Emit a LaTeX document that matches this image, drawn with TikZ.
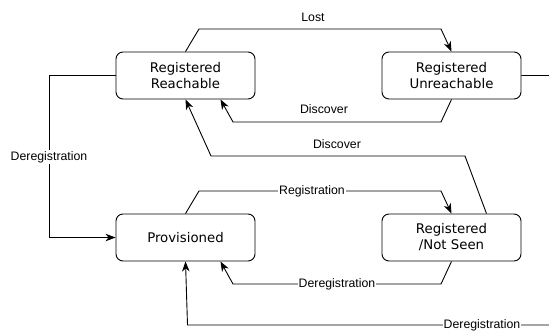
\documentclass[tikz,border=0pt]{standalone}
\usepackage{fontspec}
\setmainfont{Liberation Sans}
\newfontfamily\statefont{DejaVu Sans}
\usetikzlibrary{arrows.meta,calc}

\begin{document}
\begin{tikzpicture}[x=1pt,y=-1pt,
    state/.style={draw, line width=0.9pt, rounded corners=7pt, minimum width=139pt, minimum height=47pt, inner sep=0pt, align=center, font=\statefont\fontsize{13.3}{16}\selectfont},
    flow/.style={draw, line width=0.9pt, -{Stealth[length=10pt,width=7.5pt,inset=3pt]}},
    lbl/.style={font=\fontsize{12.3}{14}\selectfont, inner sep=1pt},
    onlbl/.style={lbl, fill=white}]
    \useasboundingbox (0,0) rectangle (549,332);
    \clip (0,0) rectangle (549,332);

    % states
    \node[state] (reach) at (185.5,75.5) {Registered\\Reachable};
    \node[state] (unreach) at (451.5,75.5) {Registered\\Unreachable};
    \node[state] (prov) at (185.5,237.5) {Provisioned};
    \node[state] (notseen) at (451.5,237.5) {Registered\\/Not Seen};

    % top row
    \draw[flow] (reach.north) -- (199,29) -- (441,29) -- (unreach.north);
    \node[lbl] at (313,17) {Lost};
    \draw[flow] (unreach.south) -- (441,122) -- (233,122) -- ($(reach.south)+(35,0)$);
    \node[lbl] at (324,109) {Discover};
    \draw[flow] ($(notseen.north)+(35,0)$) -- (465,156) -- (211,156) -- (reach.south);
    \node[lbl] at (337,144) {Discover};

    % back to provisioned
    \draw[flow] (reach.west) -- (49,75.5) -- (49,237.5) -- (prov.west);
    \node[onlbl] at (49,157) {Deregistration};
    \draw[flow] (notseen.south) -- (441,284) -- (233,284) -- ($(prov.south)+(35,0)$);
    \node[onlbl] at (337,284) {Deregistration};
    \draw[flow] (unreach.east) -- (570,75.5) -- (570,325) -- (187.5,325) -- (prov.south);
    \node[onlbl] at (482,325) {Deregistration};

    % registration
    \draw[flow] (prov.north) -- (199,191) -- (441,191) -- (notseen.north);
    \node[onlbl] at (312,191) {Registration};
\end{tikzpicture}
\end{document}
